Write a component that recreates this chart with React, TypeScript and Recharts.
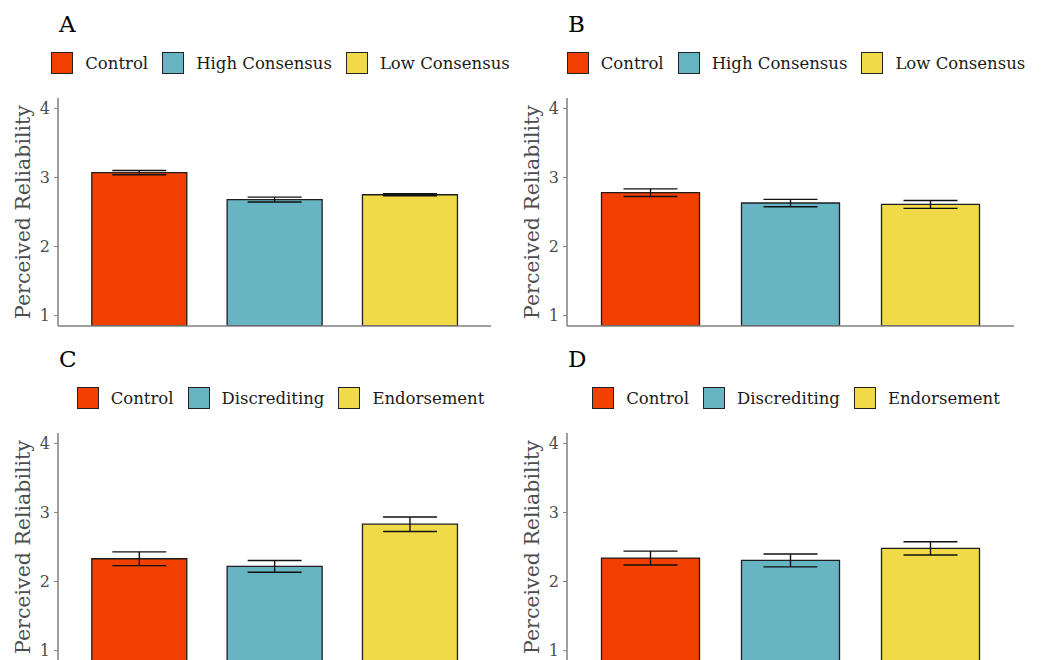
import React from "react";
import { BarChart, Bar, XAxis, YAxis, ErrorBar, Cell, Legend } from "recharts";

const CATS_AB = ["Control", "High Consensus", "Low Consensus"];
const CATS_CD = ["Control", "Discrediting", "Endorsement"];
const COLORS = ["#F24000", "#67B5C2", "#F0DA47"];

const MEAN_A = [3.07, 2.68, 2.75];
const ERR_A = [0.03, 0.035, 0.015];
const MEAN_B = [2.78, 2.63, 2.61];
const ERR_B = [0.055, 0.053, 0.057];
const MEAN_C = [2.33, 2.22, 2.83];
const ERR_C = [0.1, 0.085, 0.105];
const MEAN_D = [2.34, 2.305, 2.48];
const ERR_D = [0.1, 0.093, 0.095];

const Y_TICKS = [1, 2, 3, 4];
const Y_DOMAIN: [number, number] = [0.85, 4.15];

const FONT = "'DejaVu Serif', Georgia, serif";
const AXIS_GREY = "#808080";

interface PanelProps {
  letter: string;
  cats: string[];
  means: number[];
  errs: number[];
  left: number;
  top: number;
  width: number;
  marginRight: number;
  legendWidth: number;
}

function YTitle(props: any) {
  const vb = props.viewBox || {};
  const cx = (vb.x ?? 0) + 23;
  const cy = (vb.y ?? 0) + (vb.height ?? 0) / 2;
  return (
    <text
      x={cx}
      y={cy}
      transform={`rotate(-90, ${cx}, ${cy})`}
      textAnchor="middle"
      dominantBaseline="central"
      fill="#4d4d4d"
      fontSize={20.5}
      fontFamily={FONT}
    >
      Perceived Reliability
    </text>
  );
}

function Panel({ letter, cats, means, errs, left, top, width, marginRight, legendWidth }: PanelProps) {
  const data = cats.map((c, i) => ({ name: c, mean: means[i], err: errs[i] }));

  // legend drawn by hand so it can show one key per category
  const legendContent = () => (
    <div
      style={{
        height: 46,
        display: "flex",
        justifyContent: "center",
        alignItems: "flex-start",
        fontFamily: FONT,
        fontSize: 16.5,
        color: "#1a1a1a",
      }}
    >
      {cats.map((c, i) => (
        <div key={c} style={{ display: "flex", alignItems: "center", height: 22, marginLeft: i === 0 ? 0 : 14 }}>
          <div
            style={{
              width: 22,
              height: 22,
              boxSizing: "border-box",
              background: COLORS[i],
              border: "1.3px solid #222",
              marginRight: 12,
            }}
          />
          <span style={{ whiteSpace: "nowrap" }}>{c}</span>
        </div>
      ))}
    </div>
  );

  return (
    <>
      <div
        style={{
          position: "absolute",
          left: left + 59,
          top: top - 33,
          fontFamily: FONT,
          fontSize: 23,
          lineHeight: "24px",
          color: "#000",
        }}
      >
        {letter}
      </div>
      <div style={{ position: "absolute", left, top }}>
        <BarChart
          width={width}
          height={287}
          data={data}
          barCategoryGap="15%"
          margin={{ top: 7, right: marginRight, left: 0, bottom: 5 }}
        >
          <Legend
            verticalAlign="top"
            content={legendContent}
            wrapperStyle={{ left: 0, width: legendWidth }}
          />
          <XAxis
            dataKey="name"
            tick={false}
            tickLine={false}
            height={1}
            axisLine={{ stroke: AXIS_GREY, strokeWidth: 1.5 }}
            padding={{ left: 13.5, right: 13.5 }}
          />
          <YAxis
            type="number"
            domain={Y_DOMAIN}
            ticks={Y_TICKS}
            allowDataOverflow
            width={58}
            tickSize={4}
            tickMargin={4}
            tickLine={{ stroke: AXIS_GREY }}
            axisLine={{ stroke: AXIS_GREY, strokeWidth: 1.5 }}
            tick={{ fill: "#4d4d4d", fontSize: 16, fontFamily: FONT }}
            label={{ content: YTitle }}
          />
          <Bar dataKey="mean" stroke="#1e1e1e" strokeWidth={1.3} isAnimationActive={false}>
            {data.map((d, i) => (
              <Cell key={d.name} fill={COLORS[i]} />
            ))}
            <ErrorBar dataKey="err" width={27} stroke="#111" strokeWidth={1.4} />
          </Bar>
        </BarChart>
      </div>
    </>
  );
}

export default function App() {
  return (
    <div
      style={{
        position: "absolute",
        left: 0,
        top: 0,
        width: 1043,
        height: 660,
        overflow: "hidden",
        background: "#fff",
      }}
    >
      <Panel letter="A" cats={CATS_AB} means={MEAN_A} errs={ERR_A} left={0} top={45} width={521} marginRight={30} legendWidth={561} />
      <Panel letter="B" cats={CATS_AB} means={MEAN_B} errs={ERR_B} left={509} top={45} width={534} marginRight={29} legendWidth={574} />
      <Panel letter="C" cats={CATS_CD} means={MEAN_C} errs={ERR_C} left={0} top={380} width={521} marginRight={30} legendWidth={561} />
      <Panel letter="D" cats={CATS_CD} means={MEAN_D} errs={ERR_D} left={509} top={380} width={534} marginRight={29} legendWidth={574} />
    </div>
  );
}
